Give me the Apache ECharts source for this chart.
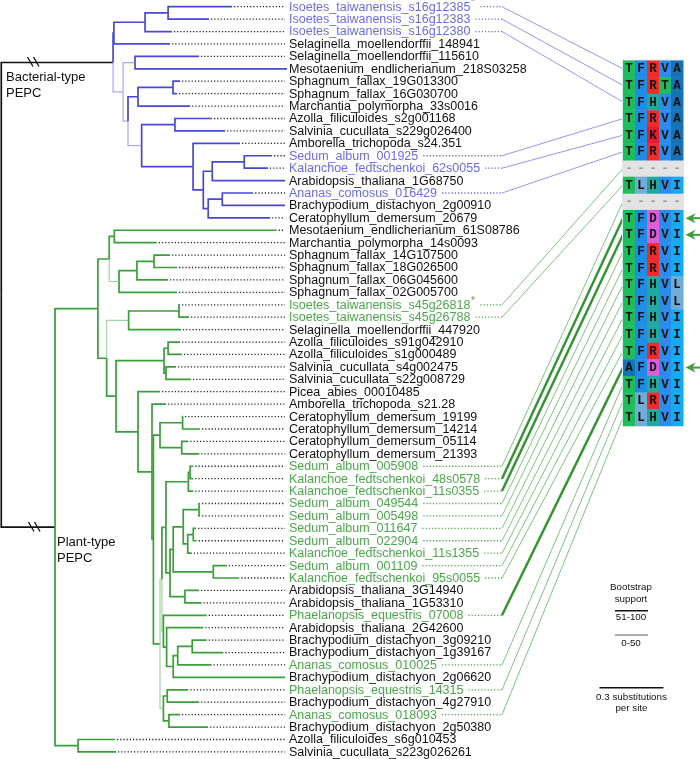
<!DOCTYPE html>
<html><head><meta charset="utf-8">
<script src="https://cdn.jsdelivr.net/npm/echarts@6/dist/echarts.min.js"></script>
<style>html,body{margin:0;padding:0;background:#fff}#c{width:700px;height:759px}</style>
</head><body><div id="c"></div>
<script>
// ---------------- DATA ----------------
const leafNames = [
 'Isoetes_taiwanensis_s16g12385','Isoetes_taiwanensis_s16g12383','Isoetes_taiwanensis_s16g12380',
 'Selaginella_moellendorffii_148941','Selaginella_moellendorffii_115610','Mesotaenium_endlicherianum_218S03258',
 'Sphagnum_fallax_19G013300','Sphagnum_fallax_16G030700','Marchantia_polymorpha_33s0016',
 'Azolla_filiculoides_s2g001168','Salvinia_cucullata_s229g026400','Amborella_trichopoda_s24.351',
 'Sedum_album_001925','Kalanchoe_fedtschenkoi_62s0055','Arabidopsis_thaliana_1G68750',
 'Ananas_comosus_016429','Brachypodium_distachyon_2g00910','Ceratophyllum_demersum_20679',
 'Mesotaenium_endlicherianum_61S08786','Marchantia_polymorpha_14s0093','Sphagnum_fallax_14G107500',
 'Sphagnum_fallax_18G026500','Sphagnum_fallax_06G045600','Sphagnum_fallax_02G005700',
 'Isoetes_taiwanensis_s45g26818','Isoetes_taiwanensis_s45g26788','Selaginella_moellendorffii_447920',
 'Azolla_filiculoides_s91g042910','Azolla_filiculoides_s1g000489','Salvinia_cucullata_s4g002475',
 'Salvinia_cucullata_s22g008729','Picea_abies_00010485','Amborella_trichopoda_s21.28',
 'Ceratophyllum_demersum_19199','Ceratophyllum_demersum_14214','Ceratophyllum_demersum_05114',
 'Ceratophyllum_demersum_21393','Sedum_album_005908','Kalanchoe_fedtschenkoi_48s0578',
 'Kalanchoe_fedtschenkoi_11s0355','Sedum_album_049544','Sedum_album_005498',
 'Sedum_album_011647','Sedum_album_022904','Kalanchoe_fedtschenkoi_11s1355',
 'Sedum_album_001109','Kalanchoe_fedtschenkoi_95s0055','Arabidopsis_thaliana_3G14940',
 'Arabidopsis_thaliana_1G53310','Phaelanopsis_equestris_07008','Arabidopsis_thaliana_2G42600',
 'Brachypodium_distachyon_3g09210','Brachypodium_distachyon_1g39167','Ananas_comosus_010025',
 'Brachypodium_distachyon_2g06620','Phaelanopsis_equestris_14315','Brachypodium_distachyon_4g27910',
 'Ananas_comosus_018093','Brachypodium_distachyon_2g50380','Azolla_filiculoides_s6g010453',
 'Salvinia_cucullata_s223g026261'
];
// depth (substitutions per site) where each leaf branch ends
const leafTips = [
 1.088,0.980,0.806,0.797,0.933,1.345,0.844,0.830,0.891,0.994,1.055,1.125,1.275,1.256,1.336,1.187,1.336,1.266,
 1.297,0.735,0.797,0.830,0.788,0.830,0.844,0.886,0.848,0.844,0.853,0.825,0.895,0.750,0.778,
 0.858,0.938,0.883,0.934,0.906,0.906,0.906,0.938,0.938,0.919,0.922,0.899,1.063,1.122,0.933,0.945,
 0.969,0.953,0.969,1.047,0.992,1.336,0.883,0.934,0.844,0.976,0.539,0.544
];
// label colour group: b = bacterial-type highlight, g = plant-type highlight, k = plain
const leafGroup = ('bbbkkkkkkkkkbbkbkk' + 'kkkkkkggkkkkkkkkkkk' + 'gggggggggg' + 'kkgkkkgkgkgkkk').split('');
const starredLeaves = [0, 24];
// internal nodes: [id, depth, childA, childB]  (number = leaf index)
const treeNodes = [
 ['root',0.006,'R','PR'],
 ['R',0.530,'C','D1'],['C',0.534,'B',3],['B',0.680,'A',2],['A',0.788,0,1],
 ['D1',0.577,'E','D2'],['E',0.633,4,5],['D2',0.600,'G','J'],['G',0.647,'SP',8],['SP',0.811,6,7],
 ['J',0.664,'H','I'],['H',0.820,9,10],['I',0.905,11,'K'],['K',0.953,'L','N'],['L',0.995,'M',14],
 ['M',1.145,12,13],['N',0.976,'O',17],['O',1.042,15,16],
 ['PR',0.258,'S','Q'],['S',0.459,'T','X'],['T',0.512,'P','U'],['P',0.536,18,19],['U',0.558,'V',23],
 ['V',0.642,'W',22],['W',0.722,20,21],['X',0.500,'Y','Z'],['Y',0.603,'IP',26],['IP',0.839,24,25],
 ['Z',0.544,'AA','AD'],['AA',0.769,'AB','AC'],['AB',0.788,27,28],['AC',0.778,29,30],
 ['AD',0.647,31,'AE'],['AE',0.7125,32,'AF'],['AF',0.719,'CE','N160'],['CE',0.750,'CE1','CE2'],
 ['CE1',0.856,33,34],['CE2',0.852,35,36],['N160',0.750,'N578','NM2'],['N578',0.759,'E1','NP'],
 ['E1',0.778,'TR','E2'],['TR',0.883,'SK',39],['SK',0.891,37,38],['E2',0.797,'N173','AR'],
 ['N173',0.812,'N183','N213'],['N183',0.859,'SP1','N187'],['SP1',0.933,40,41],['N187',0.880,'SP2',44],
 ['SP2',0.906,42,43],['N213',1.000,45,46],['AR',0.867,47,48],['NP',0.766,49,'NAB'],
 ['NAB',0.781,50,'N520'],['N520',0.812,'N533',54],['N533',0.833,'N577',53],['N577',0.901,51,52],
 ['NM2',0.766,'N167','N169'],['N167',0.784,55,56],['N169',0.792,57,58],['Q',0.366,59,60]
];
const weakNodes = ['D1','E','D2','J','U','Y','N578','NM2','NP'];
const bacterialRoot = 'R', plantRoot = 'PR';
// alignment
const alignRows = ['TFRVA','TFRTA','TFHVA','TFRVA','TFKVA','TFRVA','-----','TLHVI','-----',
 'TFDVI','TFDVI','TFRVI','TFRVI','TFHVL','TFHVL','TFHVI','TFHVI','TFRVI','AFDVI','TFHVI','TLRVI','TLHVI'];
const alignLinks = [[0,0],[1,1],[2,2],[12,3],[13,4],[15,5],[24,6],[25,7],[37,8],[38,9],[39,10],
 [40,11],[41,12],[42,13],[43,14],[44,15],[45,16],[46,17],[49,18],[53,19],[55,20],[57,21]];
const strongLinks = [38,39,49];
const arrowRows = [9,10,18];
const scaleBarLength = 0.3;
const scaleBarStart = 2.81;

// ---------------- STYLE ----------------
const FONT = '"Liberation Sans", Arial, Helvetica, sans-serif';
const LABEL_FS = 12.5;
const LABEL_X = 289, DOT_END = 285, LINK_X = 502;
const COL = {
  k:'#111111', b:'#6a6af2', g:'#4aa84a',
  edgeBlack:'#111111', edgeB:'#4848d8', edgeBweak:'#a9a9f0', edgeG:'#3a9e3a', edgeGweak:'#a2d4a2',
  linkB:'#7b7bf2', linkG:'#5cb85c', linkGstrong:'#2f962f', arrow:'#3e9f3e'
};
const RES_COL = {T:'#1dbd5b',F:'#1f8de6',R:'#f12a2a',K:'#e81a2e',H:'#21a89f',V:'#2a8deb',
  A:'#1673b8',I:'#16aaf4',L:'#72acd8',D:'#dc5cdc','-':'#e3e3e3'};

// ---------------- TREE LAYOUT ----------------
const nodeMap = {}; treeNodes.forEach(n => nodeMap[n[0]] = n);
const yOf = c => typeof c === 'number' ? c : (yOf(nodeMap[c][2]) + yOf(nodeMap[c][3])) / 2;
const xOf = c => typeof c === 'number' ? leafTips[c] : nodeMap[c][1];
const groupOf = {};
function mark(id, g){ groupOf[id] = g; const n = nodeMap[id]; [n[2],n[3]].forEach(c => { if (typeof c === 'string') mark(c, g); }); }
mark(bacterialRoot, 'b'); mark(plantRoot, 'g'); groupOf['root'] = 'k';
const edges = [];
treeNodes.forEach(n => {
  [n[2], n[3]].forEach(c => {
    let s;
    if (n[0] === 'root') s = 0;
    else {
      const weak = typeof c === 'string' && weakNodes.includes(c);
      s = groupOf[n[0]] === 'b' ? (weak ? 2 : 1) : (weak ? 4 : 3);
    }
    edges.push([n[1], yOf(n[0]), xOf(c), yOf(c), s]);
  });
});
const EDGE_COLORS = [COL.edgeBlack, COL.edgeB, COL.edgeBweak, COL.edgeG, COL.edgeGweak];

// text measuring
const mctx = document.createElement('canvas').getContext('2d');
function textW(t, fs){ mctx.font = fs + 'px ' + FONT; return mctx.measureText(t).width; }

const chart = echarts.init(document.getElementById('c'), null, {renderer:'canvas'});

const alignCells = [];
alignRows.forEach((r, ri) => r.split('').forEach((ch, ci) => alignCells.push([ci, ri])));
const alignResidues = [];
alignRows.forEach(r => r.split('').forEach(ch => alignResidues.push(ch)));

chart.setOption({
  animation: false,
  backgroundColor: '#ffffff',
  grid: [
    {left: 0, right: 0, top: 6.7, bottom: 7.1},
    {left: 623, width: 60, top: 60.5, height: 365.2}
  ],
  xAxis: [
    {type:'value', min:0, max:3.28125, show:false, gridIndex:0},
    {type:'category', data:['1','2','3','4','5'], show:false, gridIndex:1}
  ],
  yAxis: [
    {type:'value', min:0, max:60, inverse:true, show:false, gridIndex:0},
    {type:'category', data:alignRows.map((r,i)=>String(i)), inverse:true, show:false, gridIndex:1}
  ],
  graphic: [
    {type:'text', left:6, top:69.3, style:{text:'Bacterial-type\nPEPC', font:'13px '+FONT, lineHeight:16, fill:'#111'}},
    {type:'text', left:57, top:534.7, style:{text:'Plant-type\nPEPC', font:'13px '+FONT, lineHeight:16, fill:'#111'}},
    // break marks
    {type:'line', shape:{x1:27.5,y1:57,x2:33,y2:66.5}, style:{stroke:'#111', lineWidth:1.3}},
    {type:'line', shape:{x1:33.5,y1:57,x2:39,y2:66.5}, style:{stroke:'#111', lineWidth:1.3}},
    {type:'line', shape:{x1:28.5,y1:522,x2:34,y2:531.5}, style:{stroke:'#111', lineWidth:1.3}},
    {type:'line', shape:{x1:34.5,y1:522,x2:40,y2:531.5}, style:{stroke:'#111', lineWidth:1.3}},
    // bootstrap legend
    {type:'text', x:631, y:587.5, style:{text:'Bootstrap', font:'9.8px '+FONT, fill:'#111', align:'center', verticalAlign:'middle'}},
    {type:'text', x:631, y:599.5, style:{text:'support', font:'9.8px '+FONT, fill:'#111', align:'center', verticalAlign:'middle'}},
    {type:'line', shape:{x1:615,y1:610.7,x2:648,y2:610.7}, style:{stroke:'#111', lineWidth:1.6}},
    {type:'text', x:631, y:617, style:{text:'51-100', font:'9.8px '+FONT, fill:'#111', align:'center', verticalAlign:'middle'}},
    {type:'line', shape:{x1:615,y1:635,x2:648,y2:635}, style:{stroke:'#333', lineWidth:0.8}},
    {type:'text', x:631, y:643, style:{text:'0-50', font:'9.8px '+FONT, fill:'#111', align:'center', verticalAlign:'middle'}}
  ],
  series: [
    // tree branches
    {type:'custom', xAxisIndex:0, yAxisIndex:0, silent:true, clip:false, data:edges,
     encode:{x:[0,2], y:[1,3]},
     renderItem(params, api){
       const p0 = api.coord([api.value(0), api.value(1)]);
       const p1 = api.coord([api.value(0), api.value(3)]);
       const p2 = api.coord([api.value(2), api.value(3)]);
       const s = api.value(4);
       return {type:'polyline', shape:{points:[p0,p1,p2]},
         style:{stroke:EDGE_COLORS[s], lineWidth:(s===2||s===4)?1.2:1.7, fill:null, lineJoin:'miter'}};
     }},
    // dotted leaders from branch tips to labels
    {type:'custom', xAxisIndex:0, yAxisIndex:0, silent:true, clip:false,
     data: leafTips.map((t,i)=>[t,i]),
     renderItem(params, api){
       const p = api.coord([api.value(0), api.value(1)]);
       if (p[0] >= DOT_END - 2) return null;
       return {type:'line', shape:{x1:p[0]+2, y1:p[1], x2:DOT_END, y2:p[1]},
         style:{stroke:'#222', lineWidth:1.3, lineDash:[1.2,2]}};
     }},
    // leaf labels
    {type:'custom', xAxisIndex:0, yAxisIndex:0, silent:true, clip:false,
     data: leafNames.map((n,i)=>[0,i]),
     renderItem(params, api){
       const i = params.dataIndex;
       const p = api.coord([0, api.value(1)]);
       const g = leafGroup[i];
       const fill = COL[g];
       const children = [{type:'text', x:LABEL_X, y:p[1]+0.5,
         style:{text:leafNames[i], fill, fontSize:LABEL_FS, fontFamily:FONT, verticalAlign:'middle', align:'left'}}];
       let end = LABEL_X + textW(leafNames[i], LABEL_FS);
       if (starredLeaves.includes(i)) {
         children.push({type:'text', x:end+0.5, y:p[1]-4,
           style:{text:'*', fill, fontSize:10, fontFamily:FONT, verticalAlign:'middle', align:'left'}});
         end += 5;
       }
       if (g !== 'k') {
         children.push({type:'line', shape:{x1:end+5, y1:p[1], x2:LINK_X, y2:p[1]},
           style:{stroke:fill, lineWidth:1.3, lineDash:[1.2,2]}});
       }
       return {type:'group', children};
     }},
    // links from labels to alignment rows
    {type:'custom', xAxisIndex:0, yAxisIndex:0, silent:true, clip:false,
     data: alignLinks.map(l=>[0,l[0],l[1]]),
     renderItem(params, api){
       const leaf = api.value(1), row = api.value(2);
       const p = api.coord([0, leaf]);
       const q = chart.convertToPixel({xAxisIndex:1, yAxisIndex:1}, [0, row]);
       if (!q) return null;
       const strong = strongLinks.includes(leaf);
       const color = leafGroup[leaf] === 'b' ? COL.linkB : (strong ? COL.linkGstrong : COL.linkG);
       return {type:'line', shape:{x1:LINK_X, y1:p[1], x2:q[0]-6, y2:q[1]},
         style:{stroke:color, lineWidth: strong ? 2.4 : 0.8}};
     }},
    // alignment frame
    {type:'custom', xAxisIndex:1, yAxisIndex:1, silent:true, clip:false, data:[[0,0]],
     renderItem(params, api){
       const a = api.coord([0,0]), b = api.coord([4, alignRows.length-1]), s = api.size([1,1]);
       return {type:'rect', shape:{x:a[0]-s[0]/2-1, y:a[1]-s[1]/2-1, width:b[0]-a[0]+s[0]+2, height:b[1]-a[1]+s[1]+2},
         style:{fill:'#dde5ee'}};
     }},
    // alignment cells
    {type:'custom', xAxisIndex:1, yAxisIndex:1, silent:true, clip:false, data:alignCells,
     renderItem(params, api){
       const ch = alignResidues[params.dataIndex];
       const c = api.coord([api.value(0), api.value(1)]);
       const s = api.size([1,1]);
       const gap = ch === '-' ? 1.2 : 0;
       return {type:'group', children:[
         {type:'rect', shape:{x:c[0]-s[0]/2, y:c[1]-s[1]/2+gap, width:s[0]+0.4, height:s[1]+0.4-2*gap},
          style:{fill:RES_COL[ch] || '#ccc'}},
         {type:'text', x:c[0], y:c[1]+0.5, style:{text:ch, fill: ch==='-' ? '#9a9a9a' : '#111',
           fontSize:12.5, fontWeight:'bold', fontFamily:'"Liberation Mono", "Courier New", monospace',
           align:'center', verticalAlign:'middle'}}
       ]};
     }},
    // arrows
    {type:'custom', xAxisIndex:1, yAxisIndex:1, silent:true, clip:false,
     data: arrowRows.map(r=>[4,r]),
     renderItem(params, api){
       const c = api.coord([api.value(0), api.value(1)]);
       const s = api.size([1,1]);
       const x0 = c[0] + s[0]/2 + 2.5, y = c[1];
       return {type:'group', children:[
         {type:'line', shape:{x1:x0+6, y1:y, x2:700, y2:y}, style:{stroke:COL.arrow, lineWidth:2}},
         {type:'polygon', shape:{points:[[x0,y],[x0+10,y-5],[x0+7,y],[x0+10,y+5]]}, style:{fill:COL.arrow}}
       ]};
     }},
    // scale bar
    {type:'custom', xAxisIndex:0, yAxisIndex:0, silent:true, clip:false,
     data: [[scaleBarStart, scaleBarStart + scaleBarLength]],
     renderItem(params, api){
       const a = api.coord([api.value(0), 0]), b = api.coord([api.value(1), 0]);
       const y = 687.7;
       return {type:'group', children:[
         {type:'line', shape:{x1:a[0], y1:y, x2:b[0], y2:y}, style:{stroke:'#111', lineWidth:1.6}},
         {type:'text', x:(a[0]+b[0])/2, y:y+9.3, style:{text:scaleBarLength+' substitutions', fill:'#111',
           fontSize:9.8, fontFamily:FONT, align:'center', verticalAlign:'middle'}},
         {type:'text', x:(a[0]+b[0])/2, y:y+20.8, style:{text:'per site', fill:'#111',
           fontSize:9.8, fontFamily:FONT, align:'center', verticalAlign:'middle'}}
       ]};
     }}
  ]
});
</script></body></html>
